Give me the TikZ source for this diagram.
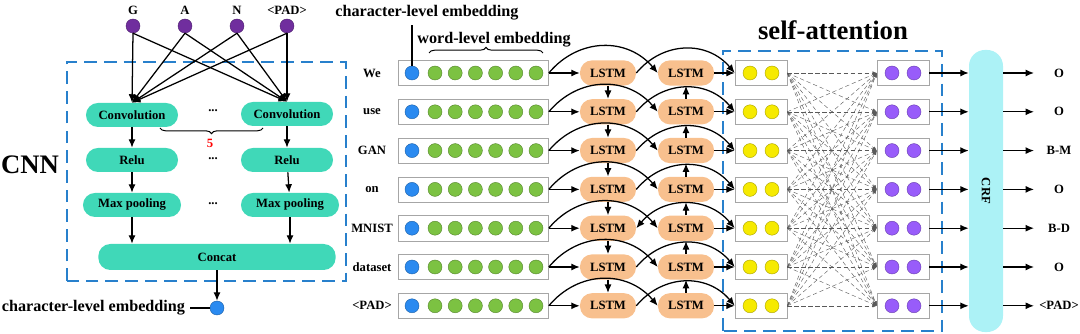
\documentclass[tikz,border=0pt]{standalone}
\usepackage{fontspec}
\setmainfont{Liberation Serif}
\usepackage{tikz}
\usetikzlibrary{arrows.meta,decorations.pathreplacing,calc}

\definecolor{cnnteal}{RGB}{64,216,184}
\definecolor{lstmpeach}{RGB}{248,192,142}
\definecolor{embgreen}{RGB}{124,194,66}
\definecolor{embblue}{RGB}{42,138,240}
\definecolor{charpurple}{RGB}{112,46,158}
\definecolor{attyellow}{RGB}{246,234,0}
\definecolor{attviolet}{RGB}{152,92,250}
\definecolor{crfcyan}{RGB}{172,242,246}
\definecolor{boxblue}{RGB}{40,128,204}

\begin{document}
\begin{tikzpicture}[x=0.025cm, y=0.025cm,
  >={Latex[length=6pt,width=5pt]},
  every node/.style={font=\bfseries\fontsize{9}{10}\selectfont},
  biglab/.style={font=\bfseries\fontsize{11.5}{12}\selectfont},
  title/.style={font=\bfseries\fontsize{19}{20}\selectfont},
  conn/.style={->, line width=0.9pt},
  hop/.style={conn, out=50, in=130, looseness=1.1},
  cnnbox/.style={fill=cnnteal, rounded corners=3mm, minimum width=2.3cm, minimum height=0.6cm, inner sep=0pt},
  lstm/.style={fill=lstmpeach, rounded corners=3mm, minimum width=1.4cm, minimum height=0.63cm, inner sep=0pt},
  rowbox/.style={draw=gray!70, fill=white, minimum width=3.75cm, minimum height=0.63cm, inner sep=0pt},
  attbox/.style={draw=gray!70, fill=white, minimum width=1.3cm, minimum height=0.63cm, inner sep=0pt},
  emb/.style={circle, inner sep=0pt, minimum size=0.35cm, draw=#1!70!black, fill=#1, line width=0.3pt},
  region/.style={draw=boxblue, dash pattern=on 9pt off 5pt, line width=0.9pt},
  attline/.style={->, >={Latex[length=3pt,width=2.5pt]}, densely dashed, gray!70!black, line width=0.3pt},
  brc/.style={line width=0.7pt, decorate, decoration={brace, amplitude=4pt}},
  skip/.style={inner sep=0pt},
]
  \useasboundingbox (0,0) rectangle (1080,334);

  % CNN over characters
  \draw[region] (67,53) rectangle (346,272);
  \node[title] (cnn) at (30,169) {CNN};
  \foreach \c/\x/\t in {1/133/G, 2/185/A, 3/237/N, 4/287/{<PAD>}} {
    \node[emb=charpurple] (ch\c) at (\x,308) {};
    \node (chl\c) at (\x,324) {\t};
  }
  \node[cnnbox] (cnv1) at (132,219) {Convolution};
  \node[cnnbox] (cnv2) at (287,220) {Convolution};
  \node[cnnbox] (relu1) at (132,174) {Relu};
  \node[cnnbox] (relu2) at (287,174) {Relu};
  \node[cnnbox, minimum width=2.45cm] (pool1) at (132,129) {Max pooling};
  \node[cnnbox, minimum width=2.45cm] (pool2) at (290,129) {Max pooling};
  \node[cnnbox, minimum width=5.93cm, minimum height=0.65cm] (concat) at (217,77) {Concat};
  \node[skip] (dots1) at (213,223) {...};
  \node[skip] (dots2) at (213,175) {...};
  \node[skip] (dots3) at (213,130) {...};
  \draw[brc] (263,206) -- (160,206);
  \node[red, skip] (five) at (210,191) {5};
  \foreach \c in {1,...,4} {
    \draw[conn] (ch\c.south) -- (cnv1.north);
    \draw[conn] (ch\c.south) -- (cnv2.north);
  }
  \draw[conn] (cnv1) -- (relu1);
  \draw[conn] (cnv2) -- (relu2);
  \draw[conn] (relu1) -- (pool1);
  \draw[conn] (relu2) -- (pool2);
  \draw[conn] (pool1) -- (pool1 |- concat.north);
  \draw[conn] (pool2) -- (pool2 |- concat.north);
  \node[emb=embblue] (chr) at (217,26) {};
  \draw[conn] (concat) -- (chr);
  \node[biglab, anchor=east] (chrlab) at (190,26) {character-level embedding};
  \draw[line width=0.9pt] (chrlab) -- (chr);

  % Embeddings, BiLSTM, self-attention
  \node[biglab] (celab) at (427,321) {character-level embedding};
  \node[biglab] (wllab) at (494,294) {word-level embedding};
  \draw[brc] (429,281) -- (543,281);
  \node[title] (satt) at (833,304) {self-attention};
  \draw[region] (723,3) rectangle (942,283);
  \node[fill=crfcyan, rounded corners=4mm, minimum width=0.85cm, minimum height=7.05cm] (crf) at (986,143) {};
  \node[rotate=-90] (crflab) at (crf) {CRF};
  \foreach \i/\w/\o in {1/We/O, 2/use/O, 3/GAN/B-M, 4/on/O, 5/MNIST/B-D, 6/dataset/O, 7/{<PAD>}/{<PAD>}} {
    \pgfmathsetmacro\y{261-38.8*(\i-1)}
    \node (lab\i) at (372,\y) {\w};
    \node[rowbox] (w\i) at (473.5,\y) {};
    \node[emb=embblue] (w\i c0) at (412,\y) {};
    \foreach \k in {1,...,6}
      \node[emb=embgreen] (w\i c\k) at (414.8+20.2*\k,\y) {};
    \node[lstm] (a\i) at (608,\y) {LSTM};
    \node[lstm] (b\i) at (686,\y) {LSTM};
    \node[attbox] (y\i) at (761,\y) {};
    \node[emb=attyellow] (y\i c1) at (750,\y) {};
    \node[emb=attyellow] (y\i c2) at (772,\y) {};
    \node[attbox] (p\i) at (903,\y) {};
    \node[emb=attviolet] (p\i c1) at (892,\y) {};
    \node[emb=attviolet] (p\i c2) at (914,\y) {};
    \coordinate (t\i) at (1034,\y);
    \node (o\i) at (1059,\y) {\o};
  }
  \draw[line width=0.9pt] (celab.south -| w1c0) -- (w1c0.north);
  \foreach \i in {1,...,7} {
    \foreach \j in {1,...,7}
      \draw[attline] (y\i.east) -- (p\j.west);
    \draw[conn] (w\i.east) -- (a\i.west);
    \draw[hop] (w\i.east) to (b\i.west);
    \draw[conn] (b\i.east) -- (y\i.west);
    \draw[conn] (p\i.east) -- (p\i.east -| crf.west);
    \draw[conn] (crf.east |- p\i.east) -- (t\i);
  }
  \foreach \i in {1,2,3,4,6,7}
    \draw[hop] (a\i.east) to (y\i.west);
  \draw[hop, <->] (a5.east) to (y5.west);
  \foreach \i [count=\j from 2] in {1,...,6} {
    \draw[conn] (a\i) -- (a\j);
    \draw[conn] (b\j) -- (b\i);
  }
\end{tikzpicture}
\end{document}
